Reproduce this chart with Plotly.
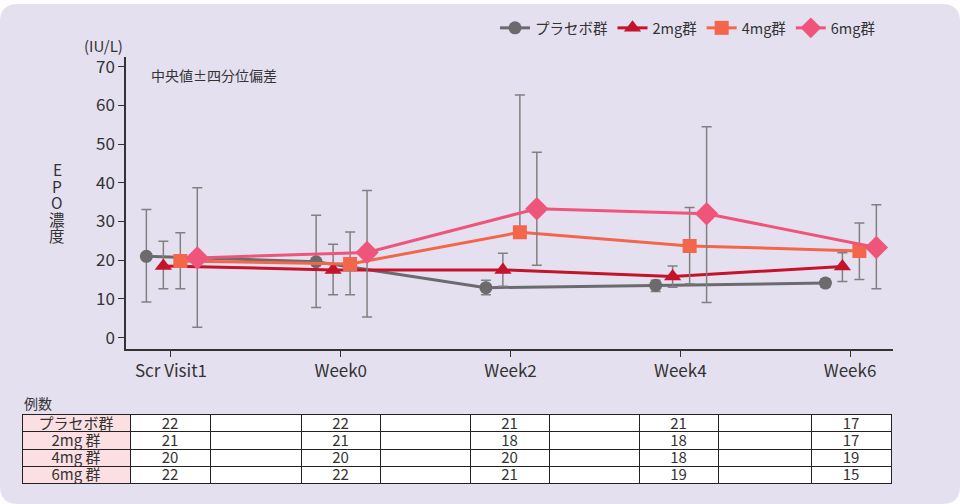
import plotly.graph_objects as go

# time points and groups
visits = ["Scr Visit1", "Week0", "Week2", "Week4", "Week6"]
groups = ["プラセボ群", "2mg群", "4mg群", "6mg群"]
table_labels = ["プラセボ群", "2mg 群", "4mg 群", "6mg 群"]

# median EPO (IU/L)
placebo_med = [21.0, 19.6, 12.9, 13.5, 14.1]
mg2_med = [18.5, 17.5, 17.5, 15.8, 18.4]
mg4_med = [19.8, 19.0, 27.2, 23.7, 22.4]
mg6_med = [20.6, 22.0, 33.3, 32.0, 23.3]

# upper / lower quartile ends of the bars
placebo_hi = [33.1, 31.6, 14.8, 14.8, 15.2]
placebo_lo = [9.2, 7.8, 11.1, 11.9, 13.0]
mg2_hi = [24.9, 24.1, 21.8, 18.5, 21.9]
mg2_lo = [12.6, 11.1, 13.3, 13.0, 14.5]
mg4_hi = [27.1, 27.3, 62.7, 33.6, 29.6]
mg4_lo = [12.6, 11.1, 27.2, 13.9, 15.0]
mg6_hi = [38.7, 38.0, 47.9, 54.5, 34.3]
mg6_lo = [2.7, 5.3, 18.7, 9.1, 12.6]

# number of cases per visit
placebo_n = [22, 22, 21, 21, 17]
mg2_n = [21, 21, 18, 18, 17]
mg4_n = [20, 20, 20, 18, 19]
mg6_n = [22, 22, 21, 19, 15]

W, H = 960, 504
FONT = "Noto Sans CJK JP"
TXT = "#333333"
BG = "#e4e0f0"


def px_x(p):
    return p / W


def px_y(p):
    return 1 - p / H


series = [
    (groups[0], placebo_med, placebo_hi, placebo_lo, "#6b6b6e", "circle", 13, -0.145),
    (groups[1], mg2_med, mg2_hi, mg2_lo, "#c4132a", "triangle-up", 15, -0.045),
    (groups[2], mg4_med, mg4_hi, mg4_lo, "#f4664b", "square", 14, 0.055),
    (groups[3], mg6_med, mg6_hi, mg6_lo, "#ef557a", "diamond", 18, 0.155),
]

fig = go.Figure()
for name, med, hi, lo, color, symbol, size, off in series:
    fig.add_trace(
        go.Scatter(
            x=[i + off for i in range(len(visits))],
            y=med,
            name=name,
            mode="lines+markers",
            line=dict(color=color, width=3),
            marker=dict(color=color, symbol=symbol, size=size),
            error_y=dict(
                type="data",
                symmetric=False,
                array=[h - m for h, m in zip(hi, med)],
                arrayminus=[m - l for m, l in zip(med, lo)],
                color="#808080",
                thickness=1.5,
                width=5,
            ),
        )
    )

# case count table: first row goes in the header so all rows look the same
rows = [
    [table_labels[0]] + placebo_n,
    [table_labels[1]] + mg2_n,
    [table_labels[2]] + mg4_n,
    [table_labels[3]] + mg6_n,
]


def spread(row):
    # blank column between each visit column
    out = [row[0]]
    for k, v in enumerate(row[1:]):
        out.append(str(v))
        if k < len(row) - 2:
            out.append("")
    return out


table_rows = [spread(r) for r in rows]
columns = [list(c) for c in zip(*table_rows)]
fills = ["#fcdfe3"] + ["white"] * (len(columns) - 1)
col_w = [108, 80, 91, 79, 90, 79, 90, 79, 93, 80]
row_h = 17.25
tfont = dict(family=FONT, size=15, color=TXT)

# grid + fills (no text)
blank = [[""] * len(c) for c in columns]
fig.add_trace(
    go.Table(
        domain=dict(x=[px_x(22), px_x(891)], y=[px_y(495), px_y(414)]),
        columnwidth=col_w,
        header=dict(
            values=[b[0] for b in blank],
            fill_color=fills,
            line=dict(color="#222222", width=1),
            height=row_h,
        ),
        cells=dict(
            values=[b[1:] for b in blank],
            fill_color=[[f] * 3 for f in fills],
            line=dict(color="#222222", width=1),
            height=row_h,
        ),
    )
)
# text layer, nudged up so the numbers sit in the middle of each row
fig.add_trace(
    go.Table(
        domain=dict(x=[px_x(22), px_x(891)], y=[px_y(495), px_y(408.5)]),
        columnwidth=col_w,
        header=dict(
            values=[c[0] for c in columns],
            fill_color="rgba(0,0,0,0)",
            line=dict(color="rgba(0,0,0,0)", width=0),
            align="center",
            height=row_h,
            font=tfont,
        ),
        cells=dict(
            values=[c[1:] for c in columns],
            fill_color="rgba(0,0,0,0)",
            line=dict(color="rgba(0,0,0,0)", width=0),
            align="center",
            height=row_h,
            font=tfont,
        ),
    )
)

# rounded panel behind everything
r = 18
x0, x1, y0, y1 = 0, W, 0, H
path = (
    f"M {px_x(x0 + r)},{px_y(y0)} L {px_x(x1 - r)},{px_y(y0)} "
    f"Q {px_x(x1)},{px_y(y0)} {px_x(x1)},{px_y(y0 + r)} "
    f"L {px_x(x1)},{px_y(y1 - r)} Q {px_x(x1)},{px_y(y1)} {px_x(x1 - r)},{px_y(y1)} "
    f"L {px_x(x0 + r)},{px_y(y1)} Q {px_x(x0)},{px_y(y1)} {px_x(x0)},{px_y(y1 - r)} "
    f"L {px_x(x0)},{px_y(y0 + r)} Q {px_x(x0)},{px_y(y0)} {px_x(x0 + r)},{px_y(y0)} Z"
)

notes = [
    dict(text="(IU/L)", x=px_x(103.5), y=px_y(42), xanchor="center",
         font=dict(size=15, color=TXT)),
    dict(text="中央値±四分位偏差", x=px_x(149), y=px_y(72), xanchor="left",
         font=dict(size=14, color=TXT)),
    dict(text="例数", x=px_x(22), y=px_y(402), xanchor="left",
         font=dict(size=14, color=TXT)),
]
# vertical axis title, one character per line (tighter than <br> spacing)
for k, ch in enumerate("EPO濃度"):
    notes.append(
        dict(text=ch, x=px_x(57), y=px_y(166.5 + 16.6 * k), xanchor="center",
             font=dict(size=15.5, color=TXT), borderpad=0)
    )
for a in notes:
    a.update(xref="paper", yref="paper", yanchor="middle", showarrow=False)

fig.update_layout(
    width=W,
    height=H,
    margin=dict(l=0, r=0, t=0, b=0),
    paper_bgcolor="white",
    plot_bgcolor="white",
    font=dict(family=FONT, color=TXT),
    shapes=[
        dict(
            type="path",
            path=path,
            xref="paper",
            yref="paper",
            fillcolor=BG,
            line=dict(width=0),
            layer="below",
        )
    ],
    legend=dict(
        orientation="h",
        x=px_x(495),
        y=px_y(8),
        xanchor="left",
        yanchor="top",
        bgcolor="rgba(0,0,0,0)",
        font=dict(family=FONT, size=14.5, color=TXT),
        itemwidth=30,
        traceorder="normal",
    ),
    xaxis=dict(
        domain=[px_x(126), px_x(893)],
        range=[-0.265, 4.253],
        tickvals=list(range(len(visits))),
        ticktext=visits,
        ticks="outside",
        ticklen=6,
        tickcolor=TXT,
        showline=True,
        linecolor=TXT,
        linewidth=1.5,
        showgrid=False,
        zeroline=False,
        tickfont=dict(family=FONT, size=17, color=TXT),
    ),
    yaxis=dict(
        domain=[px_y(348), px_y(53)],
        range=[-3, 72.6],
        tickvals=list(range(0, 71, 10)),
        ticks="outside",
        ticklen=6,
        tickcolor=TXT,
        showline=True,
        linecolor=TXT,
        linewidth=1.5,
        showgrid=False,
        zeroline=False,
        tickfont=dict(family=FONT, size=17, color=TXT),
    ),
    annotations=notes,
)

fig.write_html(
    "out.html",
    config={"displayModeBar": False},
    post_script="document.body.style.margin = '0';",
)
